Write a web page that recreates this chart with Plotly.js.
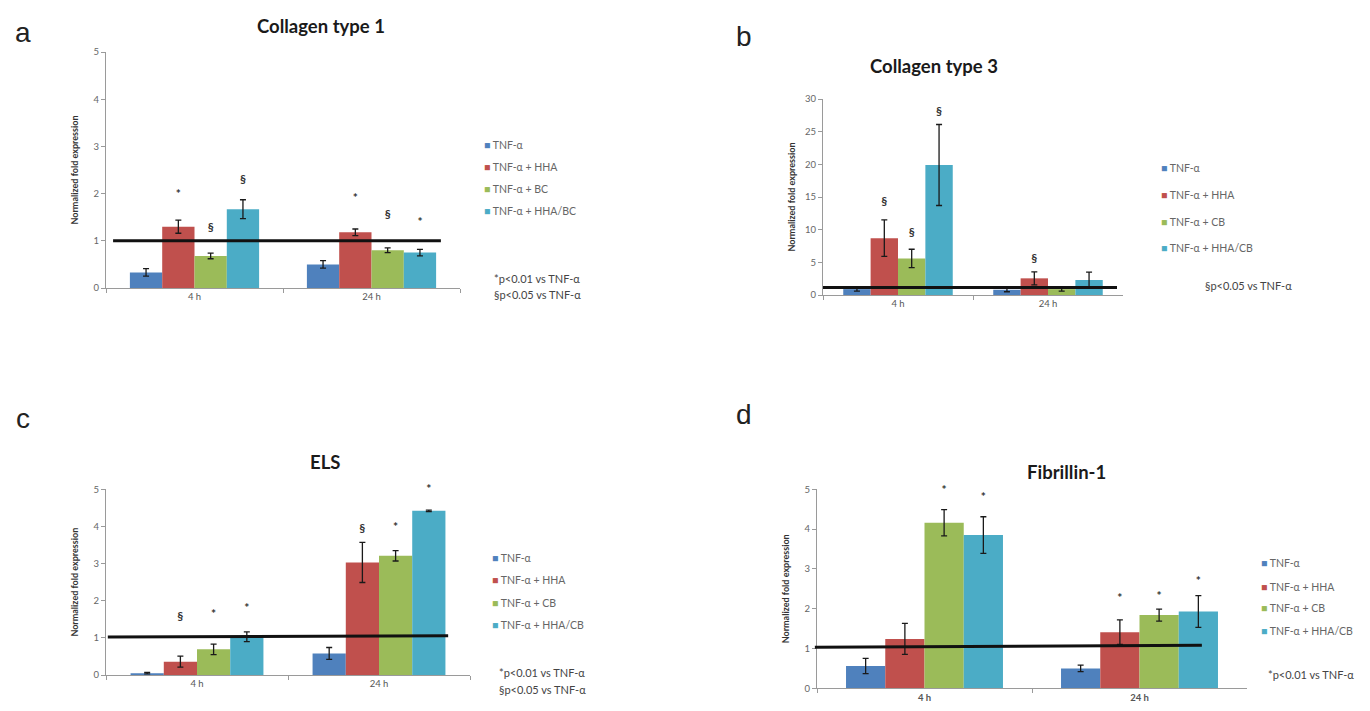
<!DOCTYPE html>
<html><head><meta charset="utf-8">
<script src="https://cdn.plot.ly/plotly-3.0.1.min.js"></script>
<style>html,body{margin:0;padding:0;background:#fff}#chart{width:1370px;height:711px}</style>
</head><body><div id="chart"></div>
<script>
// ---------- DATA ----------
const timepoints = ['4 h', '24 h'];
const namesBC = ['TNF-α', 'TNF-α + HHA', 'TNF-α + BC', 'TNF-α + HHA/BC'];
const namesCB = ['TNF-α', 'TNF-α + HHA', 'TNF-α + CB', 'TNF-α + HHA/CB'];
const panelLetters = ['a', 'b', 'c', 'd'];
const panelTitles = ['Collagen type 1', 'Collagen type 3', 'ELS', 'Fibrillin-1'];
const yAxisTitle = 'Normalized fold expression';
const footA = ['*p<0.01 vs TNF-α', '§p<0.05 vs TNF-α'];
const footB = ['§p<0.05 vs TNF-α'];
const footC = ['*p<0.01 vs TNF-α', '§p<0.05 vs TNF-α'];
const footD = ['*p<0.01 vs TNF-α'];

// Collagen type 1 (series x timepoint)
const col1Values = [[0.33, 0.50], [1.30, 1.18], [0.68, 0.80], [1.67, 0.75]];
const col1Errors = [[0.08, 0.08], [0.14, 0.07], [0.06, 0.05], [0.20, 0.07]];
const col1Sig = [['', ''], ['*', '*'], ['§', '§'], ['§', '*']];
const col1SigY = [[null, null], [1.97, 1.88], [1.27, 1.55], [2.29, 1.38]];
const col1Ref = [1.0, 1.0];

// Collagen type 3
const col3Values = [[0.9, 0.8], [8.7, 2.55], [5.6, 0.9], [19.9, 2.3]];
const col3Errors = [[0.3, 0.3], [2.8, 1.0], [1.4, 0.3], [6.2, 1.2]];
const col3Sig = [['', ''], ['§', '§'], ['§', ''], ['§', '']];
const col3SigY = [[null, null], [14.3, 5.5], [9.5, null], [28.0, null]];
const col3Ref = [1.15, 1.15];

// ELS
const elsValues = [[0.05, 0.58], [0.36, 3.03], [0.69, 3.21], [1.03, 4.42]];
const elsErrors = [[0.02, 0.16], [0.15, 0.54], [0.14, 0.14], [0.13, 0.02]];
const elsSig = [['', ''], ['§', '§'], ['*', '*'], ['*', '*']];
const elsSigY = [[null, null], [1.55, 3.92], [1.62, 3.97], [1.77, 4.99]];
const elsRef = [1.02, 1.06];

// Fibrillin-1
const fibValues = [[0.56, 0.50], [1.24, 1.41], [4.16, 1.84], [3.85, 1.93]];
const fibErrors = [[0.19, 0.08], [0.39, 0.31], [0.33, 0.15], [0.46, 0.40]];
const fibSig = [['', ''], ['', '*'], ['*', '*'], ['*', '*']];
const fibSigY = [[null, null], [null, 2.24], [4.97, 2.30], [4.77, 2.68]];
const fibRef = [1.03, 1.08];

// ---------- STYLE / LAYOUT ----------
const colors = ['#4F81BD', '#C0504D', '#9BBB59', '#4BACC6'];
const W = 1370, H = 711;
const px = v => v / W;
const py = v => 1 - v / H;
const FONT = 'Lato, "Open Sans", sans-serif';
const GAP = 0.27;

const panels = [
  {vals: col1Values, errs: col1Errors, sig: col1Sig, sigY: col1SigY, ref: col1Ref, names: namesBC, foot: footA,
   xd: [106, 460], yd: [288, 52], range: [0, 5], dtick: 1, line: [0.02, 0.946],
   title: [321, 26], letter: [23, 33], leg: [482, [145, 167, 189, 211]], footPos: [492, [278, 294]], bold: false},
  {vals: col3Values, errs: col3Errors, sig: col3Sig, sigY: col3SigY, ref: col3Ref, names: namesCB, foot: footB,
   xd: [823, 1123], yd: [295, 99], range: [0, 30], dtick: 5, line: [0.0, 0.98],
   title: [934, 66], letter: [744, 36], leg: [1159, [168, 195, 222, 248]], footPos: [1203, [285]], bold: false},
  {vals: elsValues, errs: elsErrors, sig: elsSig, sigY: elsSigY, ref: elsRef, names: namesCB, foot: footC,
   xd: [106, 470], yd: [675, 489.3], range: [0, 5], dtick: 1, line: [0.005, 0.94],
   title: [325, 462], letter: [23, 419], leg: [490, [558, 580, 603, 625]], footPos: [497, [672, 689]], bold: false},
  {vals: fibValues, errs: fibErrors, sig: fibSig, sigY: fibSigY, ref: fibRef, names: namesCB, foot: footD,
   xd: [817, 1247], yd: [688.3, 489.3], range: [0, 5], dtick: 1, line: [-0.005, 0.895],
   title: [1066, 472], letter: [744, 414], leg: [1259, [563, 587, 608, 631]], footPos: [1266, [674]], bold: true}
];

const data = [];
const layout = {
  width: W, height: H,
  margin: {l: 0, r: 0, t: 0, b: 0},
  paper_bgcolor: '#fff', plot_bgcolor: 'rgba(0,0,0,0)',
  barmode: 'group', bargap: GAP,
  scattermode: 'group', scattergap: GAP,
  showlegend: false,
  font: {family: FONT, color: '#595959'},
  annotations: [], shapes: []
};

panels.forEach((p, k) => {
  const sfx = k === 0 ? '' : String(k + 1);
  const xa = 'x' + sfx, ya = 'y' + sfx;
  for (let i = 0; i < 4; i++) {
    data.push({
      type: 'bar', x: timepoints, y: p.vals[i], name: p.names[i],
      xaxis: xa, yaxis: ya,
      marker: {color: colors[i], line: {width: 0}},
      error_y: {type: 'data', array: p.errs[i], visible: true, color: '#1a1a1a', thickness: 1.3, width: 3},
      hoverinfo: 'skip'
    });
  }
  for (let i = 0; i < 4; i++) {
    data.push({
      type: 'scatter', mode: 'text', x: timepoints, y: p.sigY[i], text: p.sig[i],
      xaxis: xa, yaxis: ya, orientation: 'v', cliponaxis: false,
      textposition: 'middle center',
      textfont: {family: FONT, size: 12, color: '#333', weight: 'bold'},
      showlegend: false, hoverinfo: 'skip'
    });
  }
  layout['xaxis' + sfx] = {
    domain: [px(p.xd[0]), px(p.xd[1])], anchor: ya, type: 'category',
    range: [-0.5, 1.5], showline: true, linecolor: '#9a9a9a', linewidth: 1,
    ticks: 'outside', tickson: 'boundaries', ticklen: 4, tickcolor: '#9a9a9a',
    showgrid: false, zeroline: false, fixedrange: true,
    tickfont: {family: FONT, size: 9.5, color: '#555', weight: p.bold ? 'bold' : 'normal'}
  };
  layout['yaxis' + sfx] = {
    domain: [py(p.yd[0]), py(p.yd[1])], anchor: xa,
    range: p.range, dtick: p.dtick, showline: true, linecolor: '#9a9a9a', linewidth: 1,
    ticks: 'outside', ticklen: 4, tickcolor: '#9a9a9a',
    showgrid: false, zeroline: false, fixedrange: true,
    tickfont: {family: FONT, size: 9.5, color: '#666'},
    title: {text: yAxisTitle, font: {family: FONT, size: 9, color: '#333', weight: 'bold'}}
  };
  layout.shapes.push({
    type: 'line', xref: xa + ' domain', yref: ya,
    x0: p.line[0], x1: p.line[1], y0: p.ref[0], y1: p.ref[1],
    line: {color: '#111', width: 3}
  });
  // panel title
  layout.annotations.push({
    xref: 'paper', yref: 'paper', x: px(p.title[0]), y: py(p.title[1]),
    xanchor: 'center', yanchor: 'middle', showarrow: false, text: panelTitles[k],
    font: {family: FONT, size: 18.5, color: '#1a1a1a', weight: 'bold'}
  });
  // panel letter
  layout.annotations.push({
    xref: 'paper', yref: 'paper', x: px(p.letter[0]), y: py(p.letter[1]),
    xanchor: 'center', yanchor: 'middle', showarrow: false, text: panelLetters[k],
    font: {family: 'Liberation Sans, Arial, sans-serif', size: 28, color: '#222'}
  });
  // legend entries
  p.names.forEach((n, i) => {
    layout.annotations.push({
      xref: 'paper', yref: 'paper', x: px(p.leg[0]), y: py(p.leg[1][i]),
      xanchor: 'left', yanchor: 'middle', showarrow: false,
      text: '<span style="color:' + colors[i] + '">■</span> ' + n,
      font: {family: FONT, size: 10.5, color: '#666'}
    });
  });
  // footnotes
  p.foot.forEach((f, i) => {
    layout.annotations.push({
      xref: 'paper', yref: 'paper', x: px(p.footPos[0]), y: py(p.footPos[1][i]),
      xanchor: 'left', yanchor: 'middle', showarrow: false,
      text: f.replace(/</g, '&lt;'),
      font: {family: FONT, size: 11, color: '#444'}
    });
  });
});

Plotly.newPlot('chart', data, layout, {staticPlot: true, displayModeBar: false});
</script>
</body></html>
